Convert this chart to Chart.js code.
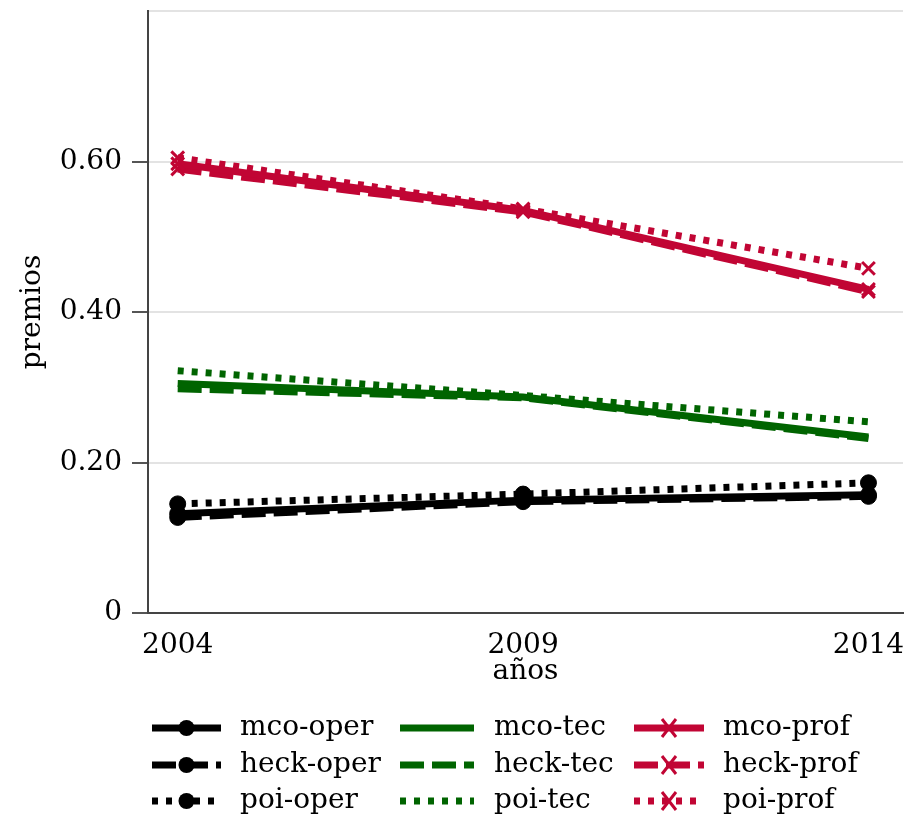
<!DOCTYPE html>
<html>
<head>
<meta charset="utf-8">
<script src="https://cdn.jsdelivr.net/npm/chart.js@4.4.1/dist/chart.umd.min.js"></script>
<style>
  html, body { margin: 0; padding: 0; background: #fff; }
  #wrap { width: 909px; height: 821px; }
</style>
</head>
<body>
<div id="wrap"><canvas id="chart" width="909" height="821"></canvas></div>
<script>
/* ================= DATA ================= */
const years = [2004, 2009, 2014];
const yTicks = [0, 0.2, 0.4, 0.6, 0.8];

const mcoOper = [0.132, 0.150, 0.157];
const heckOper = [0.127, 0.148, 0.155];
const poiOper = [0.145, 0.158, 0.173];

const mcoTec = [0.305, 0.287, 0.234];
const heckTec = [0.298, 0.286, 0.232];
const poiTec = [0.322, 0.289, 0.254];

const mcoProf = [0.597, 0.535, 0.430];
const heckProf = [0.590, 0.533, 0.427];
const poiProf = [0.605, 0.537, 0.458];

/* ================= STYLE ================= */
const BLACK = "#000000";
const GREEN = "#006400";
const RED = "#c10534";
const FONT = "'DejaVu Serif', 'Liberation Serif', serif";

const DASH = { solid: [], dash: [24, 8], dot: [6, 8] };

const makeSet = (label, values, color, dash, marker) => ({
    label,
    data: values.map((v, i) => ({ x: years[i], y: v })),
    borderColor: color,
    backgroundColor: color,
    borderWidth: 7,
    borderDash: DASH[dash],
    borderCapStyle: "butt",
    tension: 0,
    pointStyle: marker === "x" ? "crossRot" : "circle",
    pointRadius: marker === "o" ? 8 : marker === "x" ? 9 : 0,
    pointBorderWidth: marker === "x" ? 3 : 1,
    pointBorderColor: color,
    pointBackgroundColor: color,
    marker
});

// legend columns: oper / tec / prof
const datasets = [
    makeSet("mco-oper", mcoOper, BLACK, "solid", "o"),
    makeSet("heck-oper", heckOper, BLACK, "dash", "o"),
    makeSet("poi-oper", poiOper, BLACK, "dot", "o"),
    makeSet("mco-tec", mcoTec, GREEN, "solid", null),
    makeSet("heck-tec", heckTec, GREEN, "dash", null),
    makeSet("poi-tec", poiTec, GREEN, "dot", null),
    makeSet("mco-prof", mcoProf, RED, "solid", "x"),
    makeSet("heck-prof", heckProf, RED, "dash", "x"),
    makeSet("poi-prof", poiProf, RED, "dot", "x")
];

/* ================= LEGEND ================= */
const legendCols = [
    { sx: 152, ex: 221, tx: 240 },
    { sx: 400, ex: 474, tx: 494 },
    { sx: 634, ex: 704, tx: 723 }
];
const legendRows = [728, 765, 801];

const gridLegend = {
    id: "gridLegend",
    afterDraw(chart) {
        const ctx = chart.ctx;
        chart.data.datasets.forEach((ds, i) => {
            const col = legendCols[Math.floor(i / 3)];
            const y = legendRows[i % 3];
            ctx.save();
            ctx.strokeStyle = ds.borderColor;
            ctx.lineWidth = 7;
            ctx.lineCap = "butt";
            ctx.setLineDash(ds.borderDash);
            ctx.beginPath();
            ctx.moveTo(col.sx, y);
            ctx.lineTo(col.ex, y);
            ctx.stroke();
            ctx.setLineDash([]);
            const mx = (col.sx + col.ex) / 2;
            if (ds.marker === "o") {
                ctx.fillStyle = ds.borderColor;
                ctx.beginPath();
                ctx.arc(mx, y, 8, 0, Math.PI * 2);
                ctx.fill();
            } else if (ds.marker === "x") {
                ctx.lineWidth = 3;
                ctx.beginPath();
                ctx.moveTo(mx - 7, y - 9); ctx.lineTo(mx + 7, y + 9);
                ctx.moveTo(mx + 7, y - 9); ctx.lineTo(mx - 7, y + 9);
                ctx.stroke();
            }
            ctx.fillStyle = "#000";
            ctx.font = "28px " + FONT;
            ctx.textBaseline = "middle";
            ctx.textAlign = "left";
            ctx.fillText(ds.label, col.tx, y);
            ctx.restore();
        });
    }
};

/* ================= CHART ================= */
new Chart(document.getElementById("chart"), {
    type: "line",
    data: { datasets },
    plugins: [gridLegend],
    options: {
        responsive: false,
        animation: false,
        layout: { autoPadding: false, padding: { left: 0, right: 6, top: 11, bottom: 128 } },
        plugins: { legend: { display: false }, tooltip: { enabled: false } },
        scales: {
            x: {
                type: "linear",
                min: 2003.57,
                max: 2014.5,
                afterBuildTicks: axis => { axis.ticks = years.map(v => ({ value: v })); },
                afterFit: axis => {
                    axis.height = 80;
                    axis.paddingLeft = 0;
                    axis.paddingRight = 0;
                },
                grid: { display: false },
                border: { display: true, color: "#444", width: 2 },
                ticks: {
                    color: "#000",
                    padding: 8,
                    maxRotation: 0,
                    font: { family: FONT, size: 28 },
                    callback: v => String(v)
                },
                title: {
                    display: true,
                    text: "años",
                    color: "#000",
                    font: { family: FONT, size: 28 },
                    padding: { top: 0, bottom: 4 }
                }
            },
            y: {
                min: 0,
                max: 0.8,
                afterBuildTicks: axis => { axis.ticks = yTicks.map(v => ({ value: v })); },
                afterFit: axis => {
                    axis.width = 148;
                    axis.paddingTop = 0;
                    axis.paddingBottom = 0;
                },
                grid: {
                    color: "#e3e3e3",
                    lineWidth: 2,
                    tickColor: c => (c.tick && c.tick.value > 0.7 ? "rgba(0,0,0,0)" : "#555"),
                    tickLength: 16,
                    drawOnChartArea: true
                },
                border: { display: true, color: "#444", width: 2 },
                ticks: {
                    color: "#000",
                    padding: 10,
                    font: { family: FONT, size: 28 },
                    callback: v => v === 0 ? "0" : (v > 0.7 ? "" : v.toFixed(2))
                },
                title: {
                    display: true,
                    text: "premios",
                    color: "#000",
                    font: { family: FONT, size: 28 },
                    padding: { top: 16, bottom: 0 }
                }
            }
        }
    }
});
</script>
</body>
</html>
